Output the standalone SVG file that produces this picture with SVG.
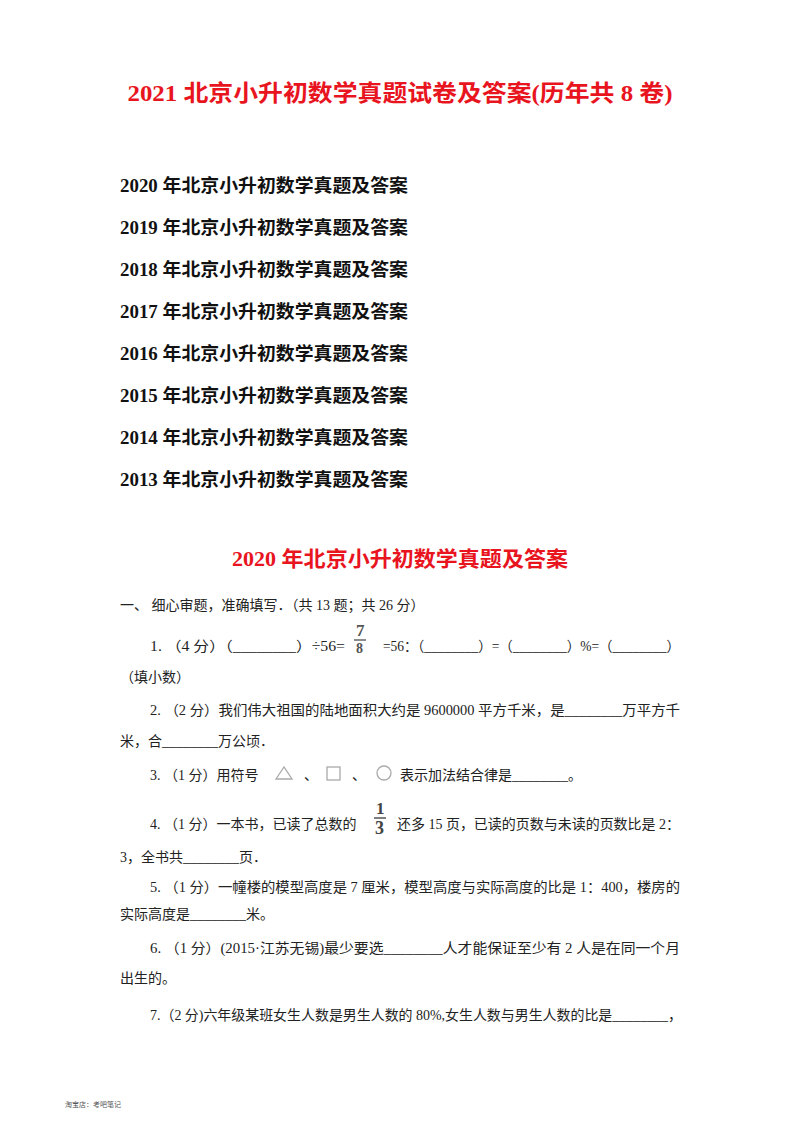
<svg xmlns="http://www.w3.org/2000/svg" width="800" height="1132" viewBox="0 0 800 1132">
<style>
text{font-family:"Liberation Serif","Noto Sans CJK SC",serif;fill:#222}
.t{font-size:23px;font-weight:bold;fill:#e8141e;text-anchor:middle}
.l{font-size:18px;font-weight:bold;fill:#111}
.b{font-size:14px}
.f{font-size:17px;font-weight:bold;fill:#555}
.s{fill:none;stroke:#aaa;stroke-width:1.3}
</style>
<rect width="800" height="1132" fill="#fff"/>
<text class="t" x="400" y="101" textLength="545" lengthAdjust="spacingAndGlyphs">2021 北京小升初数学真题试卷及答案(历年共 8 卷)</text>
<g>
<text class="l" x="120" y="192" textLength="288" lengthAdjust="spacingAndGlyphs">2020 年北京小升初数学真题及答案</text>
<text class="l" x="120" y="234" textLength="288" lengthAdjust="spacingAndGlyphs">2019 年北京小升初数学真题及答案</text>
<text class="l" x="120" y="276" textLength="288" lengthAdjust="spacingAndGlyphs">2018 年北京小升初数学真题及答案</text>
<text class="l" x="120" y="318" textLength="288" lengthAdjust="spacingAndGlyphs">2017 年北京小升初数学真题及答案</text>
<text class="l" x="120" y="360" textLength="288" lengthAdjust="spacingAndGlyphs">2016 年北京小升初数学真题及答案</text>
<text class="l" x="120" y="402" textLength="288" lengthAdjust="spacingAndGlyphs">2015 年北京小升初数学真题及答案</text>
<text class="l" x="120" y="444" textLength="288" lengthAdjust="spacingAndGlyphs">2014 年北京小升初数学真题及答案</text>
<text class="l" x="120" y="486" textLength="288" lengthAdjust="spacingAndGlyphs">2013 年北京小升初数学真题及答案</text>
</g>
<text class="t" x="400" y="566" style="font-size:21px" textLength="336" lengthAdjust="spacingAndGlyphs">2020 年北京小升初数学真题及答案</text>
<text class="b" x="120" y="610">一、 细心审题，准确填写．（共 13 题；共 26 分）</text>
<text class="b" x="150" y="651" textLength="195" lengthAdjust="spacingAndGlyphs">1. （4 分）（________）÷56=</text>
<text class="f" x="356" y="636">7</text>
<line x1="354" y1="640" x2="366" y2="640" stroke="#666" stroke-width="1.5"/>
<text class="f" x="356" y="653" style="font-size:14px">8</text>
<text class="b" x="383" y="651" textLength="297" lengthAdjust="spacingAndGlyphs">=56：（________）=（________）%=（________）</text>
<text class="b" x="120" y="682">（填小数）</text>
<text class="b" x="150" y="715" textLength="530" lengthAdjust="spacingAndGlyphs">2. （2 分）我们伟大祖国的陆地面积大约是 9600000 平方千米，是________万平方千</text>
<text class="b" x="120" y="746">米，合________万公顷．</text>
<text class="b" x="150" y="780">3. （1 分）用符号</text>
<polygon class="s" points="284,767 276,779 292,779"/>
<text class="b" x="304" y="780">、</text>
<rect class="s" x="327" y="767" width="13" height="13"/>
<text class="b" x="352" y="780">、</text>
<circle class="s" cx="384" cy="773" r="7"/>
<text class="b" x="400" y="780">表示加法结合律是________。</text>
<text class="b" x="150" y="829">4. （1 分）一本书，已读了总数的</text>
<text class="f" x="376" y="814" style="font-size:17px;fill:#444">1</text>
<line x1="374" y1="818" x2="386" y2="818" stroke="#555" stroke-width="1.5"/>
<text class="f" x="375" y="834" style="font-size:18px;fill:#444">3</text>
<text class="b" x="397" y="829" textLength="283" lengthAdjust="spacingAndGlyphs">还多 15 页，已读的页数与未读的页数比是 2：</text>
<text class="b" x="120" y="862">3，全书共________页．</text>
<text class="b" x="150" y="892" textLength="530" lengthAdjust="spacingAndGlyphs">5. （1 分）一幢楼的模型高度是 7 厘米，模型高度与实际高度的比是 1：400，楼房的</text>
<text class="b" x="120" y="919">实际高度是________米。</text>
<text class="b" x="150" y="953" textLength="530" lengthAdjust="spacingAndGlyphs">6. （1 分）(2015·江苏无锡)最少要选________人才能保证至少有 2 人是在同一个月</text>
<text class="b" x="120" y="983">出生的。</text>
<text class="b" x="150" y="1020" textLength="532" lengthAdjust="spacingAndGlyphs">7.（2 分)六年级某班女生人数是男生人数的 80%,女生人数与男生人数的比是________，</text>
<text x="65" y="1107" style="font-size:7px;fill:#555">淘宝店：考吧笔记</text>
</svg>
